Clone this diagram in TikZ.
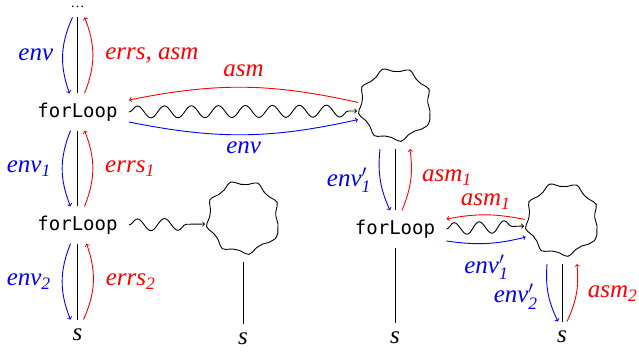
\documentclass[tikz,border=0pt]{standalone}
\usepackage{fontspec}
\setmainfont{Liberation Serif}
\setmonofont{DejaVu Sans Mono}
\usetikzlibrary{decorations.pathmorphing}

\begin{document}
\begin{tikzpicture}[x=1pt,y=-1pt,line width=0.9pt,
  every node/.style={font=\fontsize{25}{28}\selectfont},
  loopbox/.style={font=\fontsize{19}{22}\selectfont\ttfamily,inner xsep=11pt,inner ysep=9pt},
  blob/.style={draw,circle,minimum size=70pt,outer sep=3pt,decorate,decoration={snake,segment length=26pt,amplitude=2.2pt}},
  leaf/.style={inner sep=9pt},
  lbl/.style={inner sep=1pt},
  wavy/.style={->,decorate,decoration={snake,amplitude=6pt,segment length=27pt,post length=6pt}},
  envarr/.style={->,blue,bend right=22},
  errarr/.style={->,red,bend right=22}]
% unfolding a for loop step by step
\useasboundingbox (0,0) rectangle (639,354);
\node[font=\fontsize{14}{15}\selectfont,inner sep=1pt] (dots) at (77.5,7) {\ldots};
\node[loopbox] (loopA) at (77.5,112) {forLoop};
\node[loopbox] (loopB) at (77.5,225) {forLoop};
\node[leaf] (sA) at (77.5,335) {\textit{s}};
\node[blob] (cloudA) at (395,111) {};
\node[loopbox] (loopC) at (395,229) {forLoop};
\node[leaf] (sC) at (395,338) {\textit{s}};
\node[blob] (cloudB) at (243,224) {};
\node[leaf] (sB) at (243,339) {\textit{s}};
\node[blob] (cloudC) at (562,226) {};
\node[leaf] (sD) at (562,337) {\textit{s}};
% left column
\draw ([yshift=-8pt]dots.south) -- (loopA.north);
\draw[envarr] ([xshift=-5pt,yshift=-8pt]dots.south) to node[lbl,midway,left=8pt] {$\mathit{env}$} ([xshift=-8pt]loopA.north);
\draw[errarr] ([xshift=7pt]loopA.north) to node[lbl,midway,right=11pt] {\textit{errs, asm}} ([xshift=7pt,yshift=-8pt]dots.south);
\draw (loopA.south) -- (loopB.north);
\draw[envarr] ([xshift=-7pt]loopA.south) to node[lbl,midway,left=10pt] {$\mathit{env}_{\mathit{1}}$} ([xshift=-7pt]loopB.north);
\draw[errarr] ([xshift=7pt]loopB.north) to node[lbl,midway,right=11pt] {$\mathit{errs}_{\mathit{1}}$} ([xshift=7pt]loopA.south);
\draw (loopB.south) -- (sA.north);
\draw[envarr] ([xshift=-7pt]loopB.south) to node[lbl,midway,left=10pt] {$\mathit{env}_{\mathit{2}}$} ([xshift=-7pt]sA.north);
\draw[errarr] ([xshift=6pt]sA.north) to node[lbl,midway,right=11pt] {$\mathit{errs}_{\mathit{2}}$} ([xshift=9pt]loopB.south);
% first call
\draw[wavy] (loopA.east) -- (cloudA.west);
\draw[errarr,bend right=12] (cloudA.167) to node[lbl,midway,above=9pt] {$\mathit{asm}$} ([yshift=12pt]loopA.east);
\draw[envarr,bend right=12] ([yshift=-10pt]loopA.east) to node[lbl,midway,below=6pt] {$\mathit{env}$} (cloudA.193);
\draw[wavy] (loopB.east) -- (cloudB.west);
\draw (cloudB.south) -- (sB.north);
% inner for loop
\draw (cloudA.south) -- (loopC.north);
\draw[envarr,bend right=15] ([xshift=-15pt]cloudA.south) to node[lbl,midway,left=8pt] {$\mathit{env}'_{\mathit{1}}$} ([xshift=-5pt]loopC.north);
\draw[errarr,bend right=15] ([xshift=7pt]loopC.north) to node[lbl,midway,right=10pt,yshift=3pt] {$\mathit{asm}_{\mathit{1}}$} ([xshift=15pt]cloudA.south);
\draw (loopC.south) -- (sC.north);
\draw[wavy,decoration={segment length=25pt}] (loopC.east) -- (cloudC.west);
\draw[errarr,bend right=11] (cloudC.170) to node[lbl,midway,above=4pt] {$\mathit{asm}_{\mathit{1}}$} ([yshift=10pt]loopC.east);
\draw[envarr,bend right=11] ([yshift=-12pt]loopC.east) to node[lbl,midway,below=10pt] {$\mathit{env}'_{\mathit{1}}$} (cloudC.197);
\draw (cloudC.south) -- (sD.north);
\draw[envarr,bend right=15] ([xshift=-15pt]cloudC.south) to node[lbl,midway,left=9pt,yshift=-3pt] {$\mathit{env}'_{\mathit{2}}$} ([xshift=-4pt]sD.north);
\draw[errarr,bend right=15] ([xshift=5pt]sD.north) to node[lbl,midway,right=10pt] {$\mathit{asm}_{\mathit{2}}$} ([xshift=15pt]cloudC.south);
\end{tikzpicture}
\end{document}
